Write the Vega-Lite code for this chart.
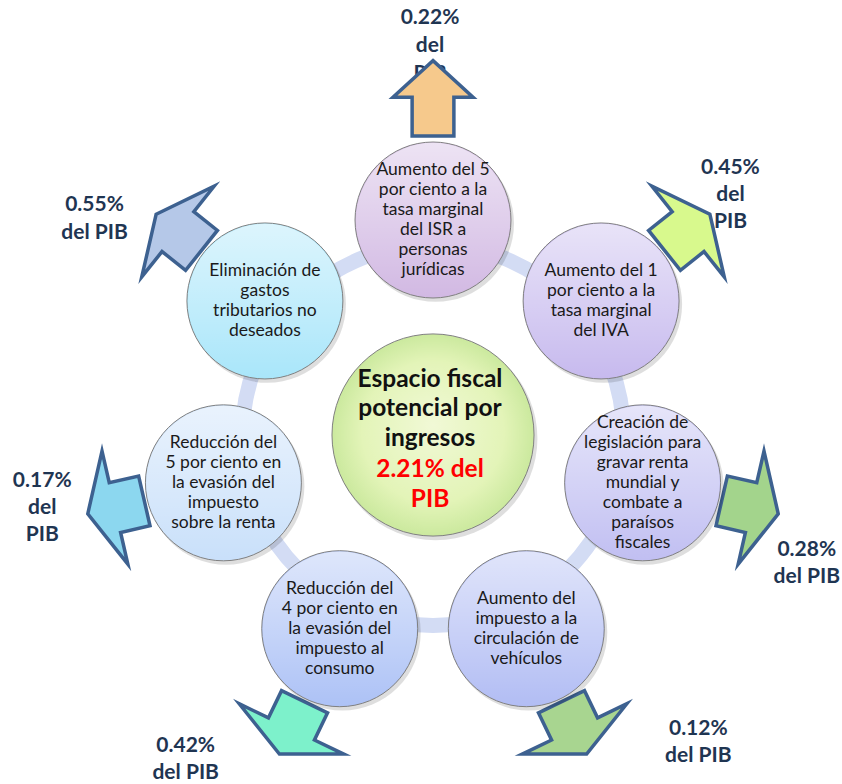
{
  "$schema": "https://vega.github.io/schema/vega-lite/v6.json",
  "width": 842,
  "height": 784,
  "padding": 0,
  "autosize": {"type": "none"},
  "background": "white",
  "config": {"view": {"stroke": null}},
  "resolve": {"scale": {"fill": "independent", "shape": "independent"}},
  "datasets": {
    "items": [
      {"i": 0, "tema": "Aumento del 5\npor ciento a la\ntasa marginal\ndel ISR a\npersonas\njurídicas", "pib": 0.22, "etiqueta": "0.22%\ndel\nPIB"},
      {"i": 1, "tema": "Aumento del 1\npor ciento a la\ntasa marginal\ndel IVA", "pib": 0.45, "etiqueta": "0.45%\ndel\nPIB"},
      {"i": 2, "tema": "Creación de\nlegislación para\ngravar renta\nmundial y\ncombate a\nparaísos\nfiscales", "pib": 0.28, "etiqueta": "0.28%\ndel PIB"},
      {"i": 3, "tema": "Aumento del\nimpuesto a la\ncirculación de\nvehículos", "pib": 0.12, "etiqueta": "0.12%\ndel PIB"},
      {"i": 4, "tema": "Reducción del\n4 por ciento en\nla evasión del\nimpuesto al\nconsumo", "pib": 0.42, "etiqueta": "0.42%\ndel PIB"},
      {"i": 5, "tema": "Reducción del\n5 por ciento en\nla evasión del\nimpuesto\nsobre la renta", "pib": 0.17, "etiqueta": "0.17%\ndel\nPIB"},
      {"i": 6, "tema": "Eliminación de\ngastos\ntributarios no\ndeseados", "pib": 0.55, "etiqueta": "0.55%\ndel PIB"}
    ]
  },
  "data": {"name": "items"},
  "transform": [
    {"calculate": "(-90 + datum.i * 360 / 7) * PI / 180", "as": "rad"},
    {"calculate": "cos(datum.rad)", "as": "nx"},
    {"calculate": "sin(datum.rad)", "as": "ny"},
    {"calculate": "datum.nx + 0.012", "as": "sx"},
    {"calculate": "datum.ny + 0.016", "as": "sy"},
    {"calculate": "1.5256 * datum.nx", "as": "ax"},
    {"calculate": "1.5256 * datum.ny", "as": "ay"},
    {"calculate": "datum.i * 360 / 7", "as": "giro"},
    {"calculate": "datum.ny - (length(split(datum.tema, '\\n')) - 1) * 20 / 2 / 215", "as": "ty"}
  ],
  "layer": [
    {
      "data": {"values": [{"anillo": 1}]},
      "mark": {"type": "point", "shape": "circle", "filled": false, "size": 145220, "stroke": "#D3DCF4", "strokeWidth": 15, "opacity": 1},
      "encoding": {
        "x": {"datum": 0, "type": "quantitative", "scale": {"domain": [-2.014, 1.9023], "nice": false, "zero": false}, "axis": null},
        "y": {"datum": 0, "type": "quantitative", "scale": {"domain": [-2.0233, 1.6233], "nice": false, "zero": false, "reverse": true}, "axis": null}
      }
    },
    {
      "transform": [{"filter": "datum.i == 0"}],
      "mark": {"type": "text", "font": "Lato", "fontWeight": "bold", "fontSize": 21, "lineHeight": 28, "lineBreak": "\n", "align": "center", "baseline": "middle", "fill": "#1F3552", "dx": -3, "dy": -89},
      "encoding": {
        "x": {"field": "ax", "type": "quantitative", "axis": null},
        "y": {"field": "ay", "type": "quantitative", "axis": null},
        "text": {"field": "etiqueta"}
      }
    },
    {
      "transform": [{"filter": "datum.i == 1"}],
      "mark": {"type": "text", "font": "Lato", "fontWeight": "bold", "fontSize": 21, "lineHeight": 27, "lineBreak": "\n", "align": "center", "baseline": "middle", "fill": "#1F3552", "dx": 41, "dy": -62},
      "encoding": {
        "x": {"field": "ax", "type": "quantitative", "axis": null},
        "y": {"field": "ay", "type": "quantitative", "axis": null},
        "text": {"field": "etiqueta"}
      }
    },
    {
      "transform": [{"filter": "datum.i == 2"}],
      "mark": {"type": "text", "font": "Lato", "fontWeight": "bold", "fontSize": 21, "lineHeight": 27, "lineBreak": "\n", "align": "center", "baseline": "middle", "fill": "#1F3552", "dx": 54, "dy": 42},
      "encoding": {
        "x": {"field": "ax", "type": "quantitative", "axis": null},
        "y": {"field": "ay", "type": "quantitative", "axis": null},
        "text": {"field": "etiqueta"}
      }
    },
    {
      "transform": [{"filter": "datum.i == 3"}],
      "mark": {"type": "text", "font": "Lato", "fontWeight": "bold", "fontSize": 21, "lineHeight": 27, "lineBreak": "\n", "align": "center", "baseline": "middle", "fill": "#1F3552", "dx": 123, "dy": -2},
      "encoding": {
        "x": {"field": "ax", "type": "quantitative", "axis": null},
        "y": {"field": "ay", "type": "quantitative", "axis": null},
        "text": {"field": "etiqueta"}
      }
    },
    {
      "transform": [{"filter": "datum.i == 4"}],
      "mark": {"type": "text", "font": "Lato", "fontWeight": "bold", "fontSize": 21, "lineHeight": 27, "lineBreak": "\n", "align": "center", "baseline": "middle", "fill": "#1F3552", "dx": -105, "dy": 15},
      "encoding": {
        "x": {"field": "ax", "type": "quantitative", "axis": null},
        "y": {"field": "ay", "type": "quantitative", "axis": null},
        "text": {"field": "etiqueta"}
      }
    },
    {
      "transform": [{"filter": "datum.i == 5"}],
      "mark": {"type": "text", "font": "Lato", "fontWeight": "bold", "fontSize": 21, "lineHeight": 27, "lineBreak": "\n", "align": "center", "baseline": "middle", "fill": "#1F3552", "dx": -71, "dy": -27},
      "encoding": {
        "x": {"field": "ax", "type": "quantitative", "axis": null},
        "y": {"field": "ay", "type": "quantitative", "axis": null},
        "text": {"field": "etiqueta"}
      }
    },
    {
      "transform": [{"filter": "datum.i == 6"}],
      "mark": {"type": "text", "font": "Lato", "fontWeight": "bold", "fontSize": 21, "lineHeight": 28, "lineBreak": "\n", "align": "center", "baseline": "middle", "fill": "#1F3552", "dx": -82, "dy": -25},
      "encoding": {
        "x": {"field": "ax", "type": "quantitative", "axis": null},
        "y": {"field": "ay", "type": "quantitative", "axis": null},
        "text": {"field": "etiqueta"}
      }
    },
    {
      "mark": {"type": "point", "filled": true, "size": 13456, "opacity": 1, "stroke": "#3D6190", "strokeWidth": 3.5, "strokeJoin": "miter", "strokeMiterLimit": 10},
      "encoding": {
        "x": {"field": "ax", "type": "quantitative", "axis": null},
        "y": {"field": "ay", "type": "quantitative", "axis": null},
        "angle": {"field": "giro", "type": "quantitative", "scale": {"domain": [0, 360], "range": [0, 360]}},
        "shape": {"field": "i", "type": "nominal", "legend": null, "scale": {"domain": [0, 1, 2, 3, 4, 5, 6], "range": [
          "M0,-0.8L0.69,-0.17L0.36,-0.17L0.36,0.5L-0.36,0.5L-0.36,-0.17L-0.69,-0.17Z",
          "M0,-0.45L1,0.03L0.44,0.03L0.44,0.55L-0.44,0.55L-0.44,0.03L-1,0.03Z",
          "M0,-0.45L1,0.03L0.44,0.03L0.44,0.55L-0.44,0.55L-0.44,0.03L-1,0.03Z",
          "M0,-0.45L1,0.03L0.44,0.03L0.44,0.55L-0.44,0.55L-0.44,0.03L-1,0.03Z",
          "M0,-0.45L1,0.03L0.44,0.03L0.44,0.55L-0.44,0.55L-0.44,0.03L-1,0.03Z",
          "M0,-0.45L1,0.03L0.44,0.03L0.44,0.55L-0.44,0.55L-0.44,0.03L-1,0.03Z",
          "M0,-0.45L1,0.03L0.44,0.03L0.44,0.55L-0.44,0.55L-0.44,0.03L-1,0.03Z"
        ]}},
        "fill": {"field": "i", "type": "nominal", "legend": null, "scale": {"domain": [0, 1, 2, 3, 4, 5, 6], "range": ["#F6C98C", "#D8F98D", "#A3D48C", "#A8D590", "#7DF1CB", "#8CD7EF", "#B5C8E8"]}}
      }
    },
    {
      "mark": {"type": "point", "shape": "circle", "filled": true, "size": 24600, "opacity": 0.13, "fill": "#000000", "strokeWidth": 0},
      "encoding": {
        "x": {"field": "sx", "type": "quantitative", "axis": null},
        "y": {"field": "sy", "type": "quantitative", "axis": null}
      }
    },
    {
      "mark": {"type": "point", "shape": "circle", "filled": true, "size": 24328, "opacity": 1, "stroke": "#808080", "strokeWidth": 1},
      "encoding": {
        "x": {"field": "nx", "type": "quantitative", "axis": null},
        "y": {"field": "ny", "type": "quantitative", "axis": null},
        "fill": {"field": "i", "type": "nominal", "legend": null, "scale": {"domain": [0, 1, 2, 3, 4, 5, 6], "range": ["#D2B9E3", "#C7BAEE", "#C1BFF2", "#B2BDF4", "#ADC2F6", "#C9E0FA", "#A9E6FA"]}}
      }
    },
    {
      "mark": {"type": "point", "shape": "circle", "filled": true, "size": 23800, "opacity": 1, "strokeWidth": 0,
        "fill": {"gradient": "linear", "x1": 0, "y1": 0, "x2": 0, "y2": 1, "stops": [
          {"offset": 0, "color": "rgba(255,255,255,0.6)"},
          {"offset": 0.6, "color": "rgba(255,255,255,0.25)"},
          {"offset": 1, "color": "rgba(255,255,255,0)"}
        ]}},
      "encoding": {
        "x": {"field": "nx", "type": "quantitative", "axis": null},
        "y": {"field": "ny", "type": "quantitative", "axis": null}
      }
    },
    {
      "mark": {"type": "text", "font": "Lato", "fontSize": 17.5, "lineHeight": 20, "lineBreak": "\n", "align": "center", "baseline": "middle", "fill": "#1A1A1A"},
      "encoding": {
        "x": {"field": "nx", "type": "quantitative", "axis": null},
        "y": {"field": "ty", "type": "quantitative", "axis": null},
        "text": {"field": "tema"}
      }
    },
    {
      "data": {"values": [{"titulo": "Espacio fiscal\npotencial por\ningresos", "total": "2.21% del\nPIB", "pib": 2.21}]},
      "layer": [
        {
          "mark": {"type": "point", "shape": "circle", "filled": true, "size": 41500, "opacity": 0.13, "fill": "#000000", "strokeWidth": 0},
          "encoding": {
            "x": {"datum": 0.012, "type": "quantitative", "axis": null},
            "y": {"datum": 0.016, "type": "quantitative", "axis": null}
          }
        },
        {
          "mark": {"type": "point", "shape": "circle", "filled": true, "size": 40828, "opacity": 1, "stroke": "#808080", "strokeWidth": 1,
            "fill": {"gradient": "radial", "x1": 0.5, "y1": 0.45, "r1": 0, "x2": 0.5, "y2": 0.5, "r2": 0.5, "stops": [
              {"offset": 0, "color": "#F1F9D6"},
              {"offset": 0.7, "color": "#E3F4B8"},
              {"offset": 1, "color": "#CBE99E"}
            ]}},
          "encoding": {
            "x": {"datum": 0, "type": "quantitative", "axis": null},
            "y": {"datum": 0, "type": "quantitative", "axis": null}
          }
        },
        {
          "mark": {"type": "text", "font": "Lato", "fontWeight": "bold", "fontSize": 24.5, "lineHeight": 29.5, "lineBreak": "\n", "align": "center", "baseline": "middle", "fill": "#111111", "dx": -3, "dy": -55},
          "encoding": {
            "x": {"datum": 0, "type": "quantitative", "axis": null},
            "y": {"datum": 0, "type": "quantitative", "axis": null},
            "text": {"field": "titulo"}
          }
        },
        {
          "mark": {"type": "text", "font": "Lato", "fontWeight": "bold", "fontSize": 24.5, "lineHeight": 30, "lineBreak": "\n", "align": "center", "baseline": "middle", "fill": "#FF0000", "dx": -3, "dy": 35},
          "encoding": {
            "x": {"datum": 0, "type": "quantitative", "axis": null},
            "y": {"datum": 0, "type": "quantitative", "axis": null},
            "text": {"field": "total"}
          }
        }
      ]
    }
  ]
}
